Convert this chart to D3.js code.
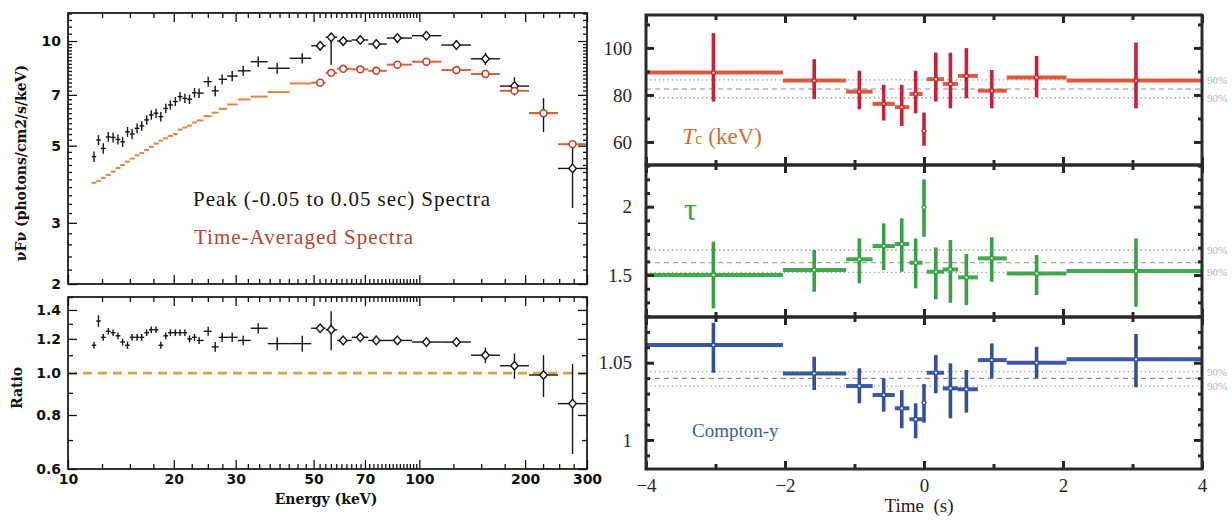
<!DOCTYPE html>
<html><head><meta charset="utf-8">
<script src="https://cdn.jsdelivr.net/npm/d3@7"></script>
<style>body{margin:0;background:#fff}svg{display:block}</style>
</head><body>
<svg id="c" width="1232" height="521"></svg>
<script>
// ---------------- DATA ----------------
// Left: spectra, energy bin centres (keV)
const energy = [11.86,12.21,12.60,13.02,13.44,13.88,14.30,14.77,15.22,15.73,16.21,16.75,17.26,17.81,18.37,18.98,19.56,20.21,20.84,21.51,22.17,22.91,23.61,
  25.06,26.24,27.46,29.33,31.52,34.78,39.39,46.42,
  52.2,56.1,60.7,67.9,75.4,86.6,104.7,127.5,154.2,186.5,225.6,272.9];
// Peak (-0.05 to 0.05 s) spectrum, nuFnu
const peakFlux = [4.65,5.19,4.91,5.30,5.28,5.21,5.13,5.48,5.40,5.61,5.70,5.93,6.13,6.20,6.06,6.40,6.55,6.70,6.92,6.84,6.80,7.10,7.08,
  7.64,7.19,7.76,7.93,8.21,8.72,8.35,8.92,
  9.69,10.25,10.0,10.07,9.80,10.20,10.36,9.74,8.89,7.42,6.20,4.30];
const peakErrLo = [0.16,0.17,0.17,0.17,0.17,0.17,0.17,0.18,0.18,0.18,0.18,0.19,0.19,0.19,0.19,0.2,0.2,0.2,0.21,0.21,0.21,0.22,0.22,
  0.25,0.25,0.26,0.27,0.28,0.3,0.3,0.3,
  0.15,1.7,0.15,0.15,0.3,0.15,0.15,0.32,0.36,0.45,0.73,0.99];
const peakErrHi = [0.16,0.17,0.17,0.17,0.17,0.17,0.17,0.18,0.18,0.18,0.18,0.19,0.19,0.19,0.19,0.2,0.2,0.2,0.21,0.21,0.21,0.22,0.22,
  0.25,0.25,0.26,0.27,0.28,0.3,0.3,0.3,
  0.15,0.3,0.15,0.15,0.3,0.15,0.15,0.32,0.36,0.45,0.65,0.67];
// Time-averaged spectrum, nuFnu
const avgFlux = [3.91,3.96,4.04,4.12,4.21,4.31,4.40,4.50,4.59,4.69,4.76,4.86,4.96,5.07,5.17,5.25,5.33,5.40,5.56,5.64,5.71,5.83,5.91,
  6.08,6.22,6.38,6.57,6.79,6.92,7.13,7.55,
  7.59,8.10,8.32,8.29,8.21,8.55,8.72,8.25,8.04,7.19,6.20,5.05];
// Ratio peak / time-averaged
const ratio = [1.16,1.32,1.21,1.25,1.24,1.22,1.18,1.16,1.21,1.21,1.21,1.24,1.26,1.26,1.16,1.22,1.24,1.24,1.24,1.24,1.20,1.21,1.19,
  1.25,1.15,1.21,1.21,1.19,1.27,1.17,1.17,
  1.27,1.26,1.19,1.21,1.19,1.19,1.18,1.18,1.10,1.04,0.99,0.85];
const ratioErr = [0.022,0.04,0.022,0.022,0.022,0.022,0.022,0.022,0.022,0.022,0.022,0.022,0.022,0.022,0.022,0.022,0.022,0.022,0.022,0.022,0.022,0.022,0.022,
  0.03,0.03,0.03,0.03,0.03,0.035,0.04,0.05,
  0.02,0.13,0.03,0.02,0.03,0.02,0.02,0.02,0.045,0.07,0.11,0.2];
const fluxTicks = [2,3,5,7,10];
const ratioTicks = [0.6,0.8,1.0,1.2,1.4];
const energyTicks = [10,20,30,50,70,100,200,300];

// Right: time-resolved parameters
const tCenter = [-3.03,-1.58,-0.93,-0.58,-0.32,-0.12,0.0,0.17,0.38,0.61,0.975,1.62,3.05];
const tStart  = [-4,-2.03,-1.12,-0.74,-0.42,-0.21,-0.02,0.04,0.27,0.49,0.775,1.19,2.05];
const tEnd    = [-2.03,-1.12,-0.74,-0.42,-0.21,-0.02,0.02,0.29,0.49,0.775,1.19,2.05,4];
const Tc    = [89.5,86.1,81.4,76.2,74.8,80.4,64.7,86.7,84.7,88.1,81.8,87.4,86.1];
const TcLo  = [77.2,78.2,73.9,69.1,66.8,72.2,58.4,77.2,74.3,78.6,74.3,79.0,74.3];
const TcHi  = [106.3,95.2,90.3,84.3,84.3,90.3,72.5,98.0,98.0,99.9,90.6,96.6,102.3];
const tau   = [1.50,1.537,1.615,1.712,1.727,1.590,1.995,1.524,1.541,1.483,1.622,1.512,1.529];
const tauLo = [1.256,1.378,1.439,1.537,1.524,1.403,1.78,1.322,1.297,1.28,1.451,1.354,1.268];
const tauHi = [1.744,1.683,1.768,1.878,1.915,1.768,2.20,1.702,1.756,1.654,1.776,1.646,1.768];
const comptonY   = [1.0614,1.0431,1.0349,1.0291,1.0205,1.0134,1.0241,1.0435,1.0334,1.0328,1.0517,1.0500,1.0522];
const comptonYLo = [1.0435,1.0323,1.0237,1.0183,1.0076,1.0011,1.0112,1.0302,1.0140,1.0177,1.0399,1.0399,1.0341];
const comptonYHi = [1.0759,1.0539,1.0464,1.0399,1.0323,1.0237,1.0362,1.0550,1.0496,1.0453,1.0625,1.0603,1.0686];
// reference levels: [lower 90%, mean, upper 90%]
const TcRef = [78.8,82.5,86.4];
const tauRef = [1.52,1.59,1.683];
const comptonYRef = [1.0349,1.0399,1.0442];
const timeTicks = [-4,-2,0,2,4];

// ---------------- DRAWING ----------------
const svg = d3.select('#c');
svg.append('rect').attr('width',1232).attr('height',521).attr('fill','#ffffff');
const defs = svg.append('defs');
function clip(id,x,y,w,h){ defs.append('clipPath').attr('id',id).append('rect').attr('x',x).attr('y',y).attr('width',w).attr('height',h); return `url(#${id})`; }

const L = {x0:68, x1:587, t0:13, t1:284, r0:297, r1:469};
const xE = d3.scaleLog().domain([10,300]).range([L.x0,L.x1]);
const yF = d3.scaleLog().domain([2,12.04]).range([L.t1,L.t0]);
const yR = d3.scaleLog().domain([0.6,1.5]).range([L.r1,L.r0]);

const idx = d3.range(energy.length);
const n = energy.length;
const binLo = idx.map(i => i===0 ? energy[0]/Math.sqrt(energy[1]/energy[0]) : Math.sqrt(energy[i-1]*energy[i]));
const binHi = idx.map(i => i===n-1 ? energy[i]*Math.sqrt(energy[i]/energy[i-1]) : Math.sqrt(energy[i]*energy[i+1]));
const isHi = i => energy[i] >= 50;
const diamond = 'M0,-4.3L3.8,0L0,4.3L-3.8,0Z';

function styleAxis(g, o){
  g.select('.domain').remove();
  g.selectAll('.tick line').attr('stroke',o.color).attr('stroke-width',o.sw);
  g.selectAll('.tick text').attr('fill',o.color).attr('font-family',o.ff).attr('font-size',o.fs).attr('font-weight',o.fw||'normal');
  return g;
}
function axis(parent, ax, tx, ty, o){
  const g = parent.append('g').attr('transform',`translate(${tx},${ty})`).call(ax);
  return styleAxis(g,o);
}
const none = () => '';
const LO = {color:'#111', sw:1.3, ff:'DejaVu Sans', fs:14, fw:'bold'};

// ---- top-left panel ----
const gTop = svg.append('g').attr('clip-path', clip('cTop',L.x0,L.t0,L.x1-L.x0,L.t1-L.t0));
gTop.selectAll('line.ph').data(idx).join('line')
  .attr('x1',i=>xE(binLo[i])).attr('x2',i=>xE(binHi[i]))
  .attr('y1',i=>yF(peakFlux[i])).attr('y2',i=>yF(peakFlux[i]))
  .attr('stroke','#151515').attr('stroke-width',1.4);
gTop.selectAll('line.pv').data(idx).join('line')
  .attr('x1',i=>xE(energy[i])).attr('x2',i=>xE(energy[i]))
  .attr('y1',i=>yF(peakFlux[i]-peakErrLo[i])).attr('y2',i=>yF(peakFlux[i]+peakErrHi[i]))
  .attr('stroke','#151515').attr('stroke-width',1.4);
gTop.selectAll('path.pd').data(idx.filter(isHi)).join('path')
  .attr('d',diamond).attr('transform',i=>`translate(${xE(energy[i])},${yF(peakFlux[i])})`)
  .attr('fill','#fff').attr('stroke','#151515').attr('stroke-width',1.4);
gTop.selectAll('line.ah').data(idx).join('line')
  .attr('x1',i=>xE(binLo[i])).attr('x2',i=>xE(binHi[i]))
  .attr('y1',i=>yF(avgFlux[i])).attr('y2',i=>yF(avgFlux[i]))
  .attr('stroke',i=>isHi(i)?'#db5f3a':'#e2843c').attr('stroke-width',2);
gTop.selectAll('circle.ac').data(idx.filter(isHi)).join('circle')
  .attr('cx',i=>xE(energy[i])).attr('cy',i=>yF(avgFlux[i])).attr('r',3.4)
  .attr('fill','#fff').attr('stroke','#c9402c').attr('stroke-width',1.6);

const fMinor = d3.range(2.2,10,0.2).filter(v=>!fluxTicks.some(t=>Math.abs(t-v)<1e-6)).concat([10.5,11,11.5,12]);
const eMinor = d3.range(12.5,50,2.5).filter(v=>v!==20&&v!==30).concat(d3.range(52,100,2).filter(v=>v!==70)).concat([125,150,175,225,250,275]);

axis(svg, d3.axisLeft(yF).tickValues(fluxTicks).tickSize(-9).tickPadding(7).tickFormat(d3.format('d')), L.x0, 0, LO);
axis(svg, d3.axisLeft(yF).tickValues(fMinor).tickSize(-4).tickFormat(none), L.x0, 0, LO);
axis(svg, d3.axisRight(yF).tickValues(fluxTicks).tickSize(-9).tickFormat(none), L.x1, 0, LO);
axis(svg, d3.axisRight(yF).tickValues(fMinor).tickSize(-4).tickFormat(none), L.x1, 0, LO);
[[d3.axisTop,L.t0],[d3.axisBottom,L.t1],[d3.axisTop,L.r0]].forEach(([f,y])=>{
  axis(svg, f(xE).tickValues(energyTicks).tickSize(-9).tickFormat(none), 0, y, LO);
  axis(svg, f(xE).tickValues(eMinor).tickSize(-5).tickFormat(none), 0, y, LO);
});
svg.append('rect').attr('x',L.x0).attr('y',L.t0).attr('width',L.x1-L.x0).attr('height',L.t1-L.t0)
  .attr('fill','none').attr('stroke','#111').attr('stroke-width',1.7);

svg.append('text').attr('x',193).attr('y',206).attr('font-family','Liberation Serif').attr('font-size',21)
  .attr('fill','#141414').attr('textLength',297).attr('lengthAdjust','spacing').text('Peak (-0.05 to 0.05 sec) Spectra');
svg.append('text').attr('x',194).attr('y',244).attr('font-family','Liberation Serif').attr('font-size',21)
  .attr('fill','#b8442d').attr('textLength',219).attr('lengthAdjust','spacing').text('Time-Averaged Spectra');

// ---- ratio panel ----
const gR = svg.append('g').attr('clip-path', clip('cR',L.x0,L.r0,L.x1-L.x0,L.r1-L.r0));
gR.append('line').attr('x1',L.x0).attr('x2',L.x1).attr('y1',yR(1)).attr('y2',yR(1))
  .attr('stroke','#d9a244').attr('stroke-width',2.6).attr('stroke-dasharray','9,6');
gR.selectAll('line.rh').data(idx).join('line')
  .attr('x1',i=>xE(binLo[i])).attr('x2',i=>xE(binHi[i]))
  .attr('y1',i=>yR(ratio[i])).attr('y2',i=>yR(ratio[i]))
  .attr('stroke','#151515').attr('stroke-width',1.4);
gR.selectAll('line.rv').data(idx).join('line')
  .attr('x1',i=>xE(energy[i])).attr('x2',i=>xE(energy[i]))
  .attr('y1',i=>yR(ratio[i]-ratioErr[i])).attr('y2',i=>yR(ratio[i]+ratioErr[i]))
  .attr('stroke','#151515').attr('stroke-width',1.4);
gR.selectAll('path.rd').data(idx.filter(isHi)).join('path')
  .attr('d',diamond).attr('transform',i=>`translate(${xE(energy[i])},${yR(ratio[i])})`)
  .attr('fill','#fff').attr('stroke','#151515').attr('stroke-width',1.4);

const rMinor = [0.7,0.9,1.1,1.3,1.5];
axis(svg, d3.axisLeft(yR).tickValues(ratioTicks).tickSize(-9).tickPadding(7).tickFormat(d3.format('.1f')), L.x0, 0, LO);
axis(svg, d3.axisLeft(yR).tickValues(rMinor).tickSize(-5).tickFormat(none), L.x0, 0, LO);
axis(svg, d3.axisRight(yR).tickValues(ratioTicks).tickSize(-9).tickFormat(none), L.x1, 0, LO);
axis(svg, d3.axisRight(yR).tickValues(rMinor).tickSize(-5).tickFormat(none), L.x1, 0, LO);
axis(svg, d3.axisBottom(xE).tickValues(energyTicks).tickSize(-9).tickPadding(5).tickFormat(d3.format('d')), 0, L.r1, LO);
axis(svg, d3.axisBottom(xE).tickValues(eMinor).tickSize(-5).tickFormat(none), 0, L.r1, LO);
svg.append('rect').attr('x',L.x0).attr('y',L.r0).attr('width',L.x1-L.x0).attr('height',L.r1-L.r0)
  .attr('fill','none').attr('stroke','#111').attr('stroke-width',1.7);

svg.append('text').attr('transform','translate(26,163) rotate(-90)').attr('text-anchor','middle')
  .attr('font-family','DejaVu Serif').attr('font-weight','bold').attr('font-size',14).attr('fill','#111')
  .text('\u03BDF\u03BD (photons/cm2/s/keV)');
svg.append('text').attr('transform','translate(22,388) rotate(-90)').attr('text-anchor','middle')
  .attr('font-family','DejaVu Serif').attr('font-weight','bold').attr('font-size',14).attr('fill','#111')
  .text('Ratio');
svg.append('text').attr('x',326).attr('y',504).attr('text-anchor','middle')
  .attr('font-family','DejaVu Serif').attr('font-weight','bold').attr('font-size',14).attr('fill','#111')
  .text('Energy (keV)');

// ---- right panels ----
const R = {x0:646, x1:1202};
const xT = d3.scaleLinear().domain([-4,4]).range([R.x0,R.x1]);
const RO = {color:'#262626', sw:3, ff:'Liberation Serif', fs:19};
const panels = [
  {y0:15, y1:165, dom:[50.2,114], vals:Tc, lo:TcLo, hi:TcHi, ref:TcRef, maj:[60,80,100], min:[70,90,110], colV:'#c8213a', colH:'#dd5a3c', id:'pTc'},
  {y0:165, y1:317, dom:[1.193,2.305], vals:tau, lo:tauLo, hi:tauHi, ref:tauRef, maj:[1.5,2], min:[1.2,1.3,1.4,1.6,1.7,1.8,1.9,2.1,2.2,2.3], colV:'#36a146', colH:'#3fab4c', id:'pTau'},
  {y0:317, y1:469, dom:[0.9812,1.0796], vals:comptonY, lo:comptonYLo, hi:comptonYHi, ref:comptonYRef, maj:[1,1.05], min:[0.99,1.01,1.02,1.03,1.04,1.06,1.07], colV:'#33509d', colH:'#3a58a6', id:'pY'}
];
const ti = d3.range(tCenter.length);
panels.forEach((p,k)=>{
  const y = d3.scaleLinear().domain(p.dom).range([p.y1,p.y0]);
  const g = svg.append('g').attr('clip-path', clip(p.id,R.x0,p.y0,R.x1-R.x0,p.y1-p.y0));
  g.append('line').attr('x1',R.x0).attr('x2',R.x1).attr('y1',y(p.ref[1])).attr('y2',y(p.ref[1]))
    .attr('stroke','#8c8c8c').attr('stroke-width',1.1).attr('stroke-dasharray','5,4');
  [p.ref[0],p.ref[2]].forEach(v=>{
    g.append('line').attr('x1',R.x0).attr('x2',R.x1).attr('y1',y(v)).attr('y2',y(v))
      .attr('stroke','#9a9a9a').attr('stroke-width',1.3).attr('stroke-dasharray','1.3,3');
    svg.append('text').attr('x',R.x1+5).attr('y',y(v)).attr('dy','0.35em')
      .attr('font-family','Liberation Serif').attr('font-size',11).attr('fill','#b4b4b4').text('90%');
  });
  g.selectAll('line.h').data(ti).join('line')
    .attr('x1',i=>xT(tStart[i])).attr('x2',i=>xT(tEnd[i]))
    .attr('y1',i=>y(p.vals[i])).attr('y2',i=>y(p.vals[i]))
    .attr('stroke',p.colH).attr('stroke-width',4);
  g.selectAll('line.v').data(ti).join('line')
    .attr('x1',i=>xT(tCenter[i])).attr('x2',i=>xT(tCenter[i]))
    .attr('y1',i=>y(p.lo[i])).attr('y2',i=>y(p.hi[i]))
    .attr('stroke',p.colV).attr('stroke-width',3.6);
  g.selectAll('path.m').data(ti).join('path')
    .attr('d','M0,-3.6L3,0L0,3.6L-3,0Z').attr('transform',i=>`translate(${xT(tCenter[i])},${y(p.vals[i])})`)
    .attr('fill',p.colV);
  g.selectAll('circle.m').data(ti).join('circle')
    .attr('cx',i=>xT(tCenter[i])).attr('cy',i=>y(p.vals[i])).attr('r',1.2).attr('fill','#f3e6e0');
  axis(svg, d3.axisLeft(y).tickValues(p.maj).tickSize(-8).tickPadding(14).tickFormat(d3.format('~g')), R.x0, 0, RO);
  axis(svg, d3.axisLeft(y).tickValues(p.min).tickSize(-4).tickFormat(none), R.x0, 0, RO);
  axis(svg, d3.axisRight(y).tickValues(p.maj).tickSize(-8).tickFormat(none), R.x1, 0, RO);
  axis(svg, d3.axisRight(y).tickValues(p.min).tickSize(-4).tickFormat(none), R.x1, 0, RO);
  [[d3.axisTop,p.y0],[d3.axisBottom,p.y1]].forEach(([f,yy])=>{
    const last = (k===2 && f===d3.axisBottom);
    axis(svg, f(xT).tickValues(timeTicks).tickSize(-8).tickPadding(10)
      .tickFormat(last ? (d=> d<0 ? '\u2212'+Math.abs(d) : String(d)) : none), 0, yy, RO);
    axis(svg, f(xT).tickValues([-3,-1,1,3]).tickSize(-5).tickFormat(none), 0, yy, RO);
  });
  svg.append('rect').attr('x',R.x0).attr('y',p.y0).attr('width',R.x1-R.x0).attr('height',p.y1-p.y0)
    .attr('fill','none').attr('stroke','#2a2a2a').attr('stroke-width',3);
});

const tcl = svg.append('text').attr('x',682).attr('y',144).attr('font-family','Liberation Serif').attr('fill','#c9713a');
tcl.append('tspan').attr('font-style','italic').attr('font-size',24).text('T');
tcl.append('tspan').attr('font-size',16).text('c');
tcl.append('tspan').attr('font-size',23).text('\u00A0(keV)');
svg.append('text').attr('x',684).attr('y',220).attr('font-family','Liberation Serif').attr('font-size',32).attr('fill','#39a645').text('\u03C4');
svg.append('text').attr('x',692).attr('y',437).attr('font-family','Liberation Serif').attr('font-size',19).attr('fill','#3a5ba7').text('Compton-y');
svg.append('text').attr('x',919).attr('y',512).attr('text-anchor','middle').attr('font-family','Liberation Serif').attr('font-size',19).attr('fill','#222').text('Time\u00A0\u00A0(s)');
</script>
</body></html>
